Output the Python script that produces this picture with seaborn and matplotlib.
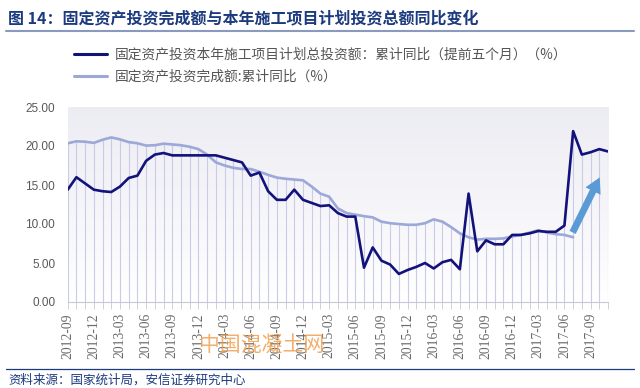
import numpy as np
import pandas as pd
import matplotlib
matplotlib.use("Agg")
import matplotlib.pyplot as plt
import seaborn as sns

# ======= 数据 =======
months = list(pd.period_range("2012-09", "2017-11", freq="M").strftime("%Y-%m"))

plan_yoy = [14.4, 16.0, 15.2, 14.4, 14.2, 14.1, 14.8, 15.9, 16.2, 18.1,
            18.9, 19.1, 18.8, 18.8, 18.8, 18.8, 18.8, 18.8, 18.5, 18.2,
            17.9, 16.2, 16.6, 14.2, 13.1, 13.1, 14.4, 13.1, 12.7, 12.3,
            12.4, 11.4, 10.95, 10.95, 4.4, 7.0, 5.3, 4.8, 3.6, 4.1,
            4.5, 5.0, 4.3, 5.1, 5.4, 4.2, 13.9, 6.5, 7.9, 7.4,
            7.4, 8.6, 8.6, 8.8, 9.1, 9.0, 9.0, 9.8, 21.9, 18.9,
            19.2, 19.6, 19.3]

fai_yoy = [20.35, 20.6, 20.55, 20.4, 20.8, 21.1, 20.85, 20.5, 20.35, 20.05,
           20.1, 20.3, 20.2, 20.1, 19.9, 19.6, 18.9, 17.9, 17.5, 17.2,
           17.05, 17.05, 16.7, 16.3, 15.95, 15.8, 15.7, 15.6, 14.8, 13.9,
           13.5, 12.0, 11.4, 11.2, 11.0, 10.85, 10.3, 10.1, 10.0, 9.9,
           9.9, 10.1, 10.6, 10.3, 9.6, 8.8, 8.3, 8.0, 8.1, 8.1,
           8.15, 8.4, 8.6, 8.9, 9.2, 8.9, 8.7, 8.6, 8.3]

label_plan = "固定资产投资本年施工项目计划总投资额：累计同比（提前五个月）（%）"
label_fai = "固定资产投资完成额:累计同比（%）"

arrow_from = (57.8, 8.6)
arrow_to = (61.2, 16.3)

# ======= 风格 =======
sns.set_theme(style="white")
plt.rcParams["font.family"] = ["Noto Sans CJK SC", "DejaVu Sans"]
plt.rcParams["axes.unicode_minus"] = False

C_PLAN = "#12127a"
C_FAI = "#9ca8d8"
C_GRID = "#c9cbe8"

df = pd.concat([
    pd.DataFrame({"idx": range(len(plan_yoy)), "value": plan_yoy, "series": label_plan}),
    pd.DataFrame({"idx": range(len(fai_yoy)), "value": fai_yoy, "series": label_fai}),
])

fig = plt.figure(figsize=(6.4, 3.88), dpi=100)
ax = fig.add_axes([67.7 / 640, 86 / 388, (608 - 67.7) / 640, 195 / 388])

n = len(months)
ax.set_xlim(0, n - 1)
ax.set_ylim(0, 25)

# 背景渐变
grad = np.linspace(1, 0, 256).reshape(-1, 1)
ax.imshow(grad, extent=[0, n - 1, 0, 25], aspect="auto", origin="upper",
          cmap=matplotlib.colors.LinearSegmentedColormap.from_list("bg", ["#ffffff", "#ececf3"]),
          zorder=0)

# 每月竖线（到两条线的较高处）
tops = [max(plan_yoy[i], fai_yoy[i] if i < len(fai_yoy) else 0) for i in range(n)]
ax.vlines(range(n), 0, tops, color=C_GRID, lw=0.8, zorder=1)

sns.lineplot(data=df, x="idx", y="value", hue="series",
             palette={label_plan: C_PLAN, label_fai: C_FAI},
             hue_order=[label_fai, label_plan],
             linewidth=1.9, legend=False, ax=ax, zorder=3)

# 箭头
ax.annotate("", xy=arrow_to, xytext=arrow_from,
            arrowprops=dict(arrowstyle="simple,head_width=1.1,head_length=1.0,tail_width=0.45",
                            mutation_scale=11, color="#5b9bd5", lw=0),
            zorder=4)

# 坐标轴
for s in ["top", "right", "left"]:
    ax.spines[s].set_visible(False)
ax.spines["bottom"].set_color("#c8c8d8")
ax.spines["bottom"].set_linewidth(0.8)

ax.set_yticks(np.arange(0, 25.1, 5))
ax.set_yticklabels([f"{v:.2f}" for v in np.arange(0, 25.1, 5)],
                   family="Liberation Sans", fontsize=8.5, color="#595959")
ax.tick_params(axis="y", length=0, pad=9)

ax.set_xticks(range(n))
ax.set_xticklabels([m if i % 3 == 0 else "" for i, m in enumerate(months)],
                   rotation=90, family="Liberation Serif", fontsize=9.8, color="#6b6b6b")
ax.tick_params(axis="x", length=5, width=0.6, color="#c8c8d8", pad=3, bottom=True)
ax.set_xlabel("")
ax.set_ylabel("")

# 图例
h_plan = plt.Line2D([], [], color=C_PLAN, lw=2.2)
h_fai = plt.Line2D([], [], color=C_FAI, lw=2.2)
fig.legend([h_plan, h_fai], [label_plan, label_fai], loc="upper left",
           bbox_to_anchor=(62 / 640, 1 - 35 / 388), frameon=False,
           handlelength=2.4, handletextpad=0.55, labelspacing=0.6,
           prop={"size": 9.9}, labelcolor="#555555")

# 标题
fig.text(8 / 640, 1 - 18 / 388, "图 14：固定资产投资完成额与本年施工项目计划投资总额同比变化",
         fontsize=11.5, fontweight="bold", color="#1c3a7e", va="center")
fig.add_artist(plt.Line2D([6 / 640, 634 / 640], [1 - 31 / 388] * 2,
                          color="#8a9abf", lw=1.5, transform=fig.transFigure))

# 来源
fig.add_artist(plt.Line2D([6 / 640, 634 / 640], [1 - 369 / 388] * 2,
                          color="#1c3a7e", lw=0.9, transform=fig.transFigure))
fig.text(8 / 640, 1 - 380 / 388, "资料来源：国家统计局，安信证券研究中心",
         fontsize=9, fontstyle="italic", color="#1c3a7e", va="center")

# 水印（与原图一样压在刻度文字上）
fig.text(262 / 640, 1 - 346 / 388, "中国混凝土网", fontsize=15, color="#f0a050",
         alpha=0.85, ha="center", va="center")

fig.savefig("out.png", dpi=100)
